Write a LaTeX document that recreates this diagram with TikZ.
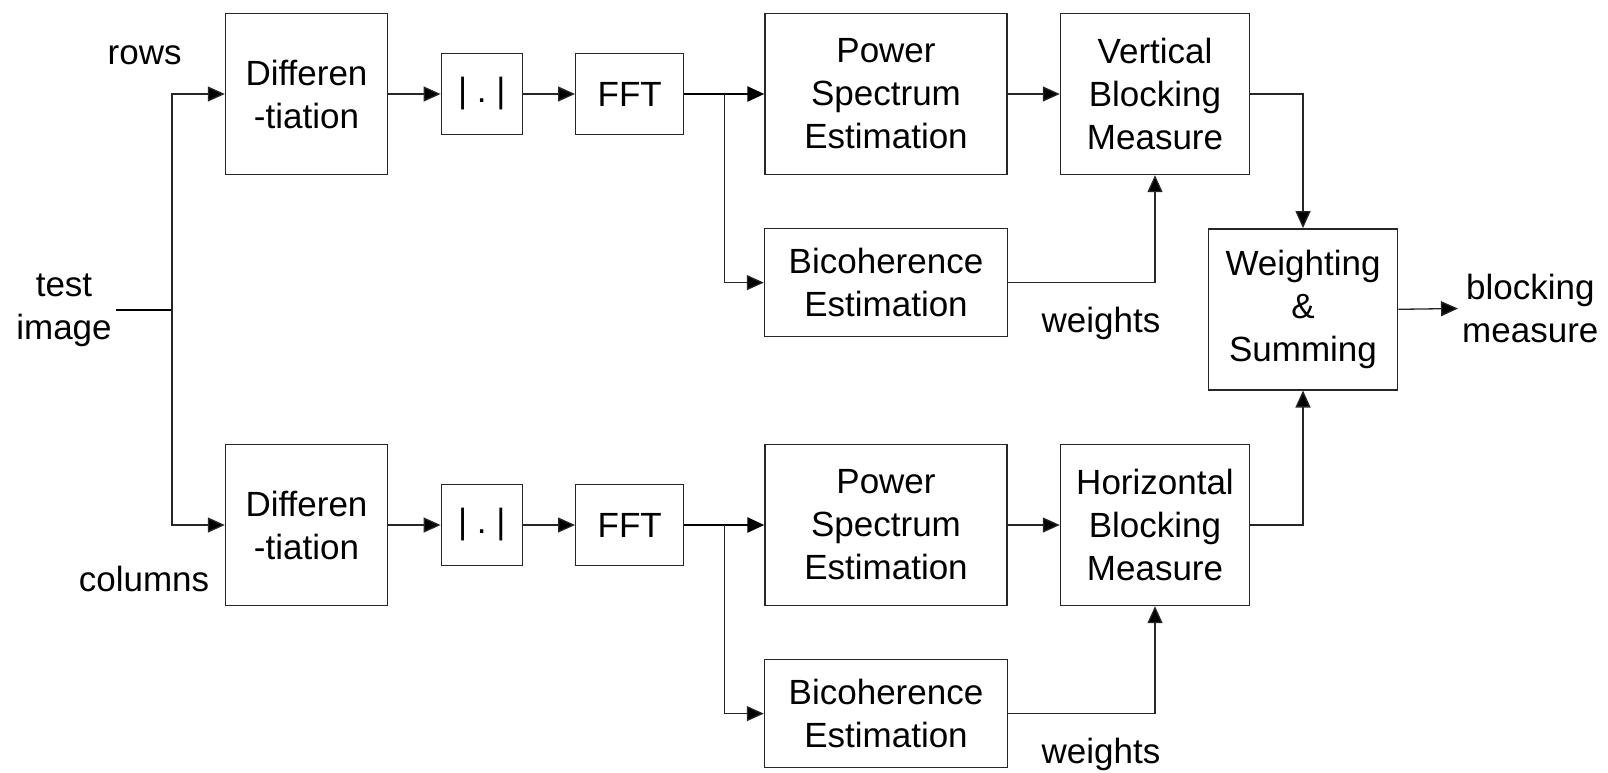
\documentclass[tikz,border=0pt]{standalone}
\usepackage{fontspec}
\setmainfont{Liberation Sans}
\usetikzlibrary{arrows.meta,calc}

\tikzset{
  blk/.style={draw=black!85, line width=1.4pt, align=center, inner sep=0pt,
              font=\fontsize{35}{43}\selectfont},
  lbl/.style={align=center, inner sep=4pt, font=\fontsize{35}{43}\selectfont},
  arr/.style={draw=black!85, line width=1.3pt, -{Triangle[length=17pt,width=15pt,fill=black]}},
  fat/.style={line width=2.6pt}
}

\begin{document}
\begin{tikzpicture}[x=1pt,y=-1pt]
  \useasboundingbox (0,0) rectangle (1608,772);
  % two branches: rows on top, columns below
  \foreach \nm/\yy in {R/94,C/525} {
    \node[blk,minimum width=162pt,minimum height=161pt] (diff\nm) at (306.5,\yy) {Differen\\-tiation};
    \node[blk,minimum width=81pt,minimum height=81pt] (abs\nm) at (481.8,\yy) {|\ .\ |};
    \node[blk,minimum width=108pt,minimum height=81pt] (fft\nm) at (629.7,\yy) {FFT};
    \node[blk,minimum width=242pt,minimum height=161pt] (pow\nm) at (886,\yy) {Power\\Spectrum\\Estimation};
    \node[blk,minimum width=243pt,minimum height=108pt] (bic\nm) at (886,\yy+188.6) {Bicoherence\\Estimation};
    \node[lbl] (wgt\nm) at (1101,\yy+229.5) {weights};
  }
  \node[blk,minimum width=189pt,minimum height=161pt] (vbm) at (1155,94) {Vertical\\Blocking\\Measure};
  \node[blk,minimum width=189pt,minimum height=161pt] (hbm) at (1155,525) {Horizontal\\Blocking\\Measure};
  \node[blk,minimum width=189.5pt,minimum height=161pt] (wsum) at (1303,309.3) {Weighting\\\&\\Summing};

  \node[lbl] (img) at (64,310) {test\\image};
  \node[lbl] (rows) at (144.6,55) {rows};
  \node[lbl] (cols) at (144,579) {columns};
  \node[lbl,anchor=west] (out) at (1458,308.5) {blocking\\measure};

  \coordinate (split) at (172,310);
  \draw[black,fat] (img.east) -- (split);
  \draw[arr] (split) |- (diffR.west);
  \draw[arr] (split) |- (diffC.west);

  \foreach \nm in {R,C} {
    \draw[arr] (diff\nm) -- (abs\nm);
    \draw[arr] (abs\nm) -- (fft\nm);
    \draw[arr,fat,draw=black] (fft\nm) -- (pow\nm);
    \coordinate (tap\nm) at ($(fft\nm.east)!0.5!(pow\nm.west)$);
    \draw[arr] (tap\nm) |- (bic\nm.west);
  }
  \draw[arr] (powR) -- (vbm);
  \draw[arr] (powC) -- (hbm);
  \draw[arr] (bicR.east) -| (vbm.south);
  \draw[arr] (bicC.east) -| (hbm.south);
  \draw[arr] (vbm.east) -| (wsum.north);
  \draw[arr] (hbm.east) -| (wsum.south);
  \draw[arr] (wsum.east) -- (out.west);
\end{tikzpicture}
\end{document}
